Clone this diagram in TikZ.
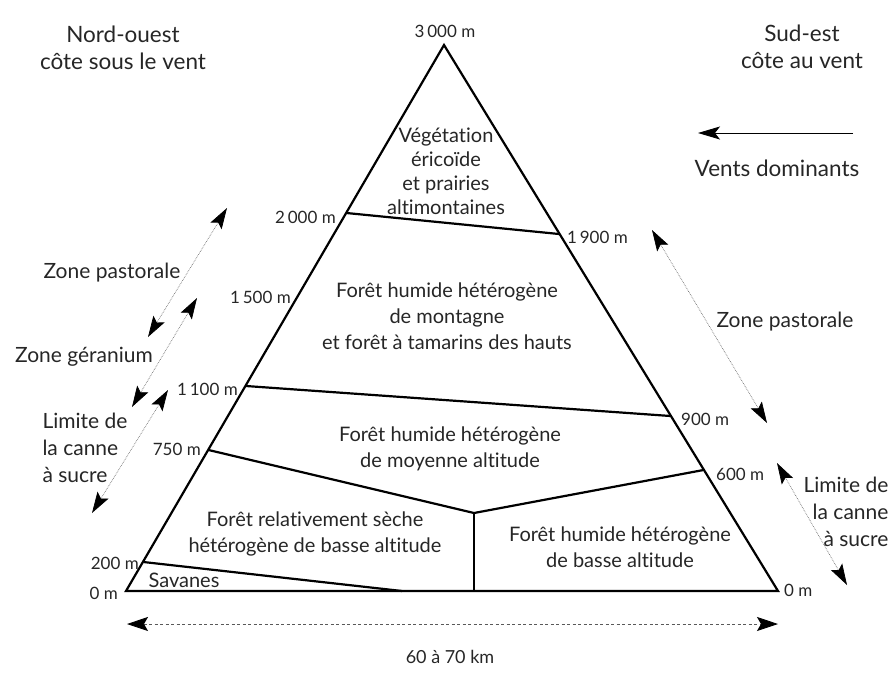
\documentclass[tikz,border=0pt]{standalone}
\usepackage{fontspec}
\setmainfont{Lato}[Ligatures={NoCommon,NoRare,NoContextual}]
\usetikzlibrary{arrows.meta}
\tikzset{
  edge/.style={line width=2.2pt, line join=miter},
  dotarrow/.style={densely dotted, line width=0.7pt, black!55, {Stealth[length=21pt,width=13pt,inset=4pt,black]}-{Stealth[length=21pt,width=13pt,inset=4pt,black]}},
  dasharrow/.style={dash pattern=on 3pt off 2.5pt, line width=0.8pt, black!65, {Stealth[length=21pt,width=14pt,inset=4pt,black]}-{Stealth[length=21pt,width=14pt,inset=4pt,black]}},
  alt/.style={font=\fontsize{17}{20}\selectfont, text=black!85, inner sep=0pt},
  zone/.style={font=\fontsize{21}{27}\selectfont, text=black!85, align=center},
  inner/.style={font=\fontsize{20}{26}\selectfont, text=black!85, align=center},
  head/.style={font=\fontsize{22.5}{27}\selectfont, text=black!85, align=center},
}
\begin{document}
\begin{tikzpicture}[x=1pt,y=-1pt]
\useasboundingbox (0,0) rectangle (892,673);
% triangle corners
\coordinate (A) at (444,45);
\coordinate (L) at (126,591);
\coordinate (R) at (778,591);
% boundary points
\coordinate (l2000) at (346.5,213);
\coordinate (r1900) at (559,234);
\coordinate (l1100) at (246,386);
\coordinate (r900) at (670.5,416);
\coordinate (l750) at (208.6,450);
\coordinate (m) at (474,513);
\coordinate (mb) at (474,591);
\coordinate (r600) at (703.5,470);
\coordinate (l200) at (143.4,562);
\coordinate (sb) at (402,591);

\draw[edge] (L) -- (A) -- (R) -- cycle;
\draw[edge] (l2000) -- (r1900);
\draw[edge] (l1100) -- (r900);
\draw[edge] (l750) -- (m) -- (r600);
\draw[edge] (m) -- (mb);
\draw[edge] (l200) -- (sb);

% altitude labels
\node[alt] (t3000) at (445,31) {3\,000 m};
\node[alt, anchor=east] (t2000) at (336,217) {2\,000 m};
\node[alt, anchor=west] (t1900) at (567,237) {1\,900 m};
\node[alt, anchor=east] (t1500) at (291,297) {1\,500 m};
\node[alt, anchor=east] (t1100) at (238,389) {1\,100 m};
\node[alt, anchor=west] (t900) at (681,419) {900 m};
\node[alt, anchor=east] (t750) at (201,449) {750 m};
\node[alt, anchor=west] (t600) at (716,474) {600 m};
\node[alt, anchor=east] (t200) at (139,563) {200 m};
\node[alt, anchor=east] (t0l) at (118,593) {0 m};
\node[alt, anchor=west] (t0r) at (784,590) {0 m};

% inner labels
\node[inner, font=\fontsize{20}{24}\selectfont] (veg) at (446,171) {Végétation\\éricoïde\\et prairies\\altimontaines};
\node[inner] (mont) at (447,316) {Forêt humide hétérogène\\de montagne\\et forêt à tamarins des hauts};
\node[inner] (moy) at (450,449) {Forêt humide hétérogène\\de moyenne altitude};
\node[inner] (seche) at (315,534) {Forêt relativement sèche\\hétérogène de basse altitude};
\node[inner] (basse) at (620,547) {Forêt humide hétérogène\\de basse altitude};
\node[inner] (sav) at (184,580) {Savanes};

% headings
\node[head] (no) at (123,48) {Nord-ouest\\côte sous le vent};
\node[head] (se) at (802,47) {Sud-est\\côte au vent};
\coordinate (w1) at (853,133);
\coordinate (w2) at (698,133);
\draw[line width=0.9pt, -{Stealth[length=22pt,width=13pt,inset=5pt]}] (w1) -- (w2);
\node[head] (vents) at (777,168) {Vents dominants};

% left zones
\coordinate (p1a) at (227,208);
\coordinate (p1b) at (148,337);
\draw[dotarrow] (p1a) -- (p1b);
\node[zone] (zpl) at (112,273) {Zone pastorale};
\coordinate (g1a) at (197,298);
\coordinate (g1b) at (132,407);
\draw[dotarrow] (g1a) -- (g1b);
\node[zone] (zgl) at (84,357) {Zone géranium};
\coordinate (c1a) at (168,390);
\coordinate (c1b) at (92,513);
\draw[dotarrow] (c1a) -- (c1b);
\node[zone, align=left, anchor=west] (lcl) at (39,448) {Limite de\\la canne\\à sucre};

% right zones
\coordinate (p2a) at (652,230);
\coordinate (p2b) at (767,423);
\draw[dotarrow] (p2a) -- (p2b);
\node[zone] (zpr) at (785,322) {Zone pastorale};
\coordinate (c2a) at (777,463);
\coordinate (c2b) at (847,585);
\draw[dotarrow] (c2a) -- (c2b);
\node[zone, align=right, anchor=east] (lcr) at (892,512) {Limite de\\la canne\\à sucre};

% bottom
\coordinate (b1) at (127,624);
\coordinate (b2) at (778,624);
\draw[dasharrow] (b1) -- (b2);
\node[alt, font=\fontsize{18}{20}\selectfont] (km) at (450,657) {60 à 70 km};
\end{tikzpicture}
\end{document}
